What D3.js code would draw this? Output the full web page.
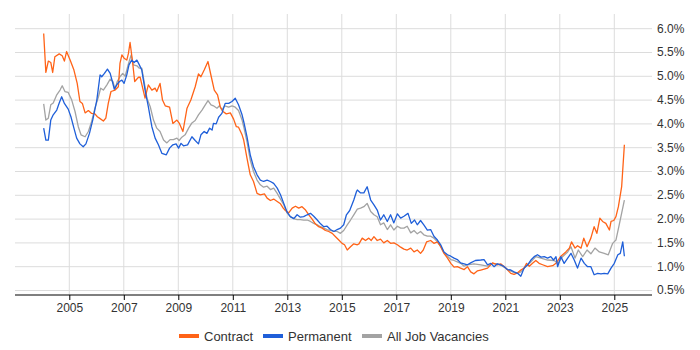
<!DOCTYPE html>
<html>
<head>
<meta charset="utf-8">
<script src="https://cdn.jsdelivr.net/npm/d3@7"></script>
<style>
  body { margin: 0; background: #fff; }
  text { font-family: "Liberation Sans", Arial, sans-serif; }
</style>
</head>
<body>
<script>
const width = 700;
const height = 350;

// year (decimal), percent
const contract = [
  [2004.06,5.89],[2004.14,5.07],[2004.23,5.31],[2004.32,5.28],[2004.39,5.07],[2004.47,5.40],[2004.63,5.46],
  [2004.74,5.42],[2004.82,5.31],[2004.90,5.51],[2005.03,5.33],[2005.17,5.12],[2005.29,4.84],[2005.39,4.46],
  [2005.48,4.42],[2005.58,4.22],[2005.70,4.27],[2005.82,4.21],[2005.94,4.20],[2006.03,4.14],[2006.13,4.10],
  [2006.25,4.05],[2006.34,4.11],[2006.43,4.42],[2006.53,4.67],[2006.68,4.70],[2006.80,4.77],[2006.86,5.26],
  [2006.93,5.44],[2007.01,5.37],[2007.11,5.33],[2007.17,5.47],[2007.23,5.70],[2007.32,5.30],[2007.40,4.88],
  [2007.54,4.97],[2007.60,4.97],[2007.78,4.53],[2007.90,4.81],[2008.03,4.70],[2008.15,4.74],[2008.21,4.67],
  [2008.33,4.84],[2008.42,4.49],[2008.52,4.37],[2008.68,4.34],[2008.80,4.00],[2008.95,4.07],[2009.04,4.00],
  [2009.17,3.83],[2009.32,4.32],[2009.46,4.49],[2009.62,4.77],[2009.74,5.04],[2009.83,4.98],[2009.95,5.12],
  [2010.09,5.30],[2010.21,4.98],[2010.32,4.70],[2010.44,4.60],[2010.54,4.35],[2010.64,4.25],[2010.76,4.20],
  [2010.91,4.22],[2011.03,4.09],[2011.13,3.93],[2011.21,3.92],[2011.34,3.76],[2011.40,3.65],[2011.52,3.27],
  [2011.64,2.92],[2011.76,2.78],[2011.89,2.53],[2012.01,2.50],[2012.16,2.52],[2012.26,2.43],[2012.38,2.38],
  [2012.50,2.41],[2012.63,2.36],[2012.75,2.31],[2012.85,2.22],[2012.93,2.17],[2013.05,2.12],[2013.18,2.22],
  [2013.30,2.26],[2013.42,2.22],[2013.54,2.25],[2013.67,2.18],[2013.79,2.08],[2013.91,1.99],[2014.03,1.89],
  [2014.15,1.83],[2014.28,1.80],[2014.40,1.75],[2014.52,1.73],[2014.65,1.69],[2014.77,1.62],[2014.89,1.55],
  [2015.01,1.48],[2015.10,1.45],[2015.20,1.34],[2015.32,1.41],[2015.44,1.47],[2015.57,1.45],[2015.63,1.47],
  [2015.75,1.59],[2015.87,1.54],[2015.99,1.59],[2016.08,1.54],[2016.18,1.62],[2016.30,1.54],[2016.42,1.57],
  [2016.54,1.49],[2016.67,1.54],[2016.79,1.48],[2016.91,1.49],[2017.04,1.45],[2017.16,1.40],[2017.28,1.36],
  [2017.40,1.34],[2017.53,1.38],[2017.65,1.30],[2017.77,1.34],[2017.89,1.27],[2017.99,1.34],[2018.11,1.51],
  [2018.26,1.54],[2018.38,1.48],[2018.51,1.51],[2018.63,1.41],[2018.75,1.27],[2018.88,1.17],[2019.00,1.06],
  [2019.12,0.98],[2019.24,0.99],[2019.36,0.96],[2019.49,0.93],[2019.61,0.99],[2019.73,0.88],[2019.85,0.84],
  [2019.97,0.90],[2020.10,0.92],[2020.35,0.96],[2020.53,1.07],[2020.71,1.03],[2020.83,1.05],[2021.02,0.96],
  [2021.20,0.85],[2021.32,0.83],[2021.45,0.86],[2021.57,0.92],[2021.69,0.96],[2021.78,1.06],[2021.88,1.00],
  [2022.00,1.06],[2022.12,1.12],[2022.24,1.06],[2022.37,1.03],[2022.55,0.99],[2022.74,1.01],[2022.86,1.06],
  [2023.04,1.21],[2023.22,1.30],[2023.35,1.38],[2023.43,1.51],[2023.56,1.38],[2023.65,1.43],[2023.78,1.38],
  [2023.88,1.59],[2024.00,1.41],[2024.14,1.59],[2024.26,1.83],[2024.36,1.69],[2024.47,2.01],[2024.57,1.94],
  [2024.69,1.90],[2024.82,1.76],[2024.88,1.94],[2024.98,1.96],[2025.06,2.04],[2025.15,2.25],[2025.27,2.67],
  [2025.37,3.55]
];

const permanent = [
  [2004.06,3.90],[2004.14,3.65],[2004.23,3.65],[2004.32,4.07],[2004.41,4.18],[2004.54,4.28],[2004.63,4.43],
  [2004.72,4.56],[2004.82,4.42],[2004.96,4.30],[2005.06,4.14],[2005.17,3.90],[2005.27,3.69],[2005.39,3.57],
  [2005.51,3.51],[2005.61,3.57],[2005.74,3.79],[2005.86,4.07],[2006.01,4.49],[2006.13,5.02],[2006.19,4.98],
  [2006.29,5.05],[2006.40,5.14],[2006.50,5.05],[2006.58,4.88],[2006.65,4.72],[2006.74,4.81],[2006.84,4.88],
  [2006.93,4.91],[2007.01,4.84],[2007.11,5.02],[2007.19,5.23],[2007.29,5.33],[2007.38,5.28],[2007.48,5.33],
  [2007.57,5.23],[2007.66,5.12],[2007.78,4.70],[2007.90,4.35],[2008.03,3.93],[2008.15,3.69],[2008.27,3.55],
  [2008.40,3.37],[2008.56,3.34],[2008.68,3.48],[2008.80,3.55],[2008.92,3.57],[2009.01,3.48],[2009.10,3.58],
  [2009.19,3.53],[2009.34,3.55],[2009.50,3.72],[2009.62,3.64],[2009.74,3.57],[2009.83,3.76],[2009.95,3.83],
  [2010.05,3.79],[2010.15,3.90],[2010.24,3.86],[2010.29,4.00],[2010.39,3.99],[2010.48,4.13],[2010.60,4.21],
  [2010.72,4.42],[2010.85,4.42],[2010.97,4.46],[2011.09,4.53],[2011.21,4.39],[2011.34,4.18],[2011.40,4.04],
  [2011.52,3.72],[2011.64,3.34],[2011.76,3.09],[2011.89,2.92],[2012.01,2.81],[2012.13,2.78],[2012.26,2.81],
  [2012.38,2.78],[2012.50,2.74],[2012.63,2.64],[2012.75,2.50],[2012.87,2.32],[2012.99,2.14],[2013.11,2.04],
  [2013.24,2.00],[2013.36,2.08],[2013.48,2.03],[2013.60,2.04],[2013.73,2.08],[2013.85,2.11],[2013.97,2.05],
  [2014.10,1.97],[2014.22,1.89],[2014.34,1.83],[2014.46,1.84],[2014.58,1.77],[2014.71,1.73],[2014.83,1.77],
  [2014.95,1.80],[2015.07,1.87],[2015.17,2.08],[2015.29,2.17],[2015.44,2.39],[2015.54,2.57],[2015.57,2.60],
  [2015.69,2.54],[2015.81,2.54],[2015.93,2.67],[2016.06,2.39],[2016.18,2.29],[2016.30,2.18],[2016.42,1.97],
  [2016.54,2.08],[2016.67,1.94],[2016.79,2.08],[2016.91,1.91],[2017.04,2.10],[2017.16,2.01],[2017.28,2.05],
  [2017.43,2.11],[2017.55,1.90],[2017.67,1.97],[2017.77,1.87],[2017.89,1.96],[2018.01,1.87],[2018.14,1.76],
  [2018.26,1.77],[2018.38,1.63],[2018.51,1.55],[2018.63,1.45],[2018.75,1.30],[2018.88,1.24],[2019.00,1.21],
  [2019.12,1.17],[2019.24,1.14],[2019.36,1.07],[2019.49,1.05],[2019.61,1.03],[2019.73,1.07],[2019.90,1.12],
  [2020.10,1.13],[2020.22,1.14],[2020.35,1.03],[2020.47,1.06],[2020.59,0.99],[2020.71,1.05],[2020.83,1.03],
  [2020.96,0.99],[2021.08,0.93],[2021.20,0.92],[2021.32,0.88],[2021.45,0.85],[2021.57,0.79],[2021.69,0.96],
  [2021.82,1.03],[2021.94,1.13],[2022.06,1.20],[2022.18,1.24],[2022.31,1.19],[2022.43,1.20],[2022.55,1.17],
  [2022.67,1.20],[2022.77,1.13],[2022.86,1.20],[2022.92,0.99],[2023.04,1.20],[2023.16,1.06],[2023.29,1.17],
  [2023.41,1.27],[2023.53,1.13],[2023.65,0.96],[2023.78,1.17],[2023.90,1.06],[2024.02,0.99],[2024.14,0.99],
  [2024.26,0.82],[2024.39,0.85],[2024.51,0.84],[2024.63,0.85],[2024.76,0.84],[2024.88,0.96],[2025.00,1.06],
  [2025.13,1.24],[2025.22,1.27],[2025.31,1.51],[2025.37,1.21]
];

const allJobs = [
  [2004.06,4.41],[2004.14,4.07],[2004.23,4.11],[2004.32,4.39],[2004.41,4.43],[2004.54,4.60],[2004.66,4.70],
  [2004.74,4.79],[2004.84,4.67],[2004.96,4.65],[2005.09,4.49],[2005.21,4.25],[2005.33,3.93],[2005.43,3.76],
  [2005.58,3.72],[2005.70,3.83],[2005.82,4.04],[2005.94,4.32],[2006.07,4.56],[2006.15,4.74],[2006.25,4.70],
  [2006.38,4.81],[2006.50,4.93],[2006.60,4.88],[2006.68,4.72],[2006.76,4.88],[2006.86,4.98],[2006.96,5.05],
  [2007.05,4.99],[2007.15,5.21],[2007.27,5.44],[2007.35,5.23],[2007.48,5.21],[2007.57,5.16],[2007.66,5.16],
  [2007.85,4.53],[2007.97,4.35],[2008.09,4.07],[2008.21,3.90],[2008.33,3.83],[2008.46,3.65],[2008.58,3.59],
  [2008.70,3.66],[2008.82,3.66],[2008.95,3.69],[2009.03,3.64],[2009.13,3.71],[2009.25,3.76],[2009.38,3.90],
  [2009.50,4.01],[2009.62,4.06],[2009.74,4.18],[2009.87,4.28],[2009.99,4.39],[2010.09,4.48],[2010.20,4.39],
  [2010.29,4.37],[2010.42,4.32],[2010.51,4.37],[2010.60,4.28],[2010.70,4.37],[2010.85,4.34],[2010.97,4.37],
  [2011.09,4.34],[2011.21,4.27],[2011.34,4.07],[2011.40,3.93],[2011.52,3.62],[2011.64,3.23],[2011.76,2.99],
  [2011.89,2.81],[2012.01,2.71],[2012.13,2.66],[2012.26,2.68],[2012.38,2.61],[2012.50,2.64],[2012.63,2.53],
  [2012.75,2.41],[2012.87,2.29],[2012.99,2.12],[2013.11,2.04],[2013.24,2.00],[2013.36,1.98],[2013.48,1.98],
  [2013.60,1.97],[2013.73,1.97],[2013.85,1.94],[2013.97,1.90],[2014.10,1.87],[2014.22,1.83],[2014.34,1.80],
  [2014.46,1.77],[2014.58,1.75],[2014.71,1.73],[2014.83,1.73],[2014.95,1.69],[2015.07,1.75],[2015.20,1.87],
  [2015.32,1.97],[2015.44,2.08],[2015.57,2.20],[2015.69,2.22],[2015.81,2.25],[2015.93,2.32],[2016.06,2.15],
  [2016.18,2.08],[2016.30,2.04],[2016.42,1.87],[2016.54,1.91],[2016.67,1.77],[2016.79,1.87],[2016.91,1.76],
  [2017.04,1.84],[2017.16,1.80],[2017.28,1.80],[2017.40,1.84],[2017.53,1.70],[2017.65,1.75],[2017.77,1.68],
  [2017.89,1.73],[2018.01,1.66],[2018.14,1.63],[2018.26,1.63],[2018.38,1.59],[2018.51,1.51],[2018.63,1.41],
  [2018.75,1.28],[2018.88,1.21],[2019.00,1.14],[2019.12,1.12],[2019.24,1.09],[2019.36,1.06],[2019.49,1.00],
  [2019.61,1.03],[2019.85,1.05],[2020.10,1.03],[2020.35,1.00],[2020.53,1.06],[2020.71,1.05],[2020.90,1.00],
  [2021.08,0.93],[2021.26,0.88],[2021.45,0.85],[2021.57,0.88],[2021.75,0.99],[2021.94,1.09],[2022.12,1.20],
  [2022.31,1.17],[2022.55,1.13],[2022.79,1.12],[2022.94,1.06],[2023.10,1.20],[2023.29,1.30],[2023.41,1.41],
  [2023.56,1.17],[2023.68,1.34],[2023.84,1.20],[2024.00,1.34],[2024.14,1.26],[2024.29,1.38],[2024.45,1.30],
  [2024.63,1.27],[2024.78,1.24],[2024.94,1.48],[2025.06,1.55],[2025.18,1.87],[2025.37,2.39]
];

const yearTicks = [2005, 2007, 2009, 2011, 2013, 2015, 2017, 2019, 2021, 2023, 2025];
const pctTicks = [0.5, 1.0, 1.5, 2.0, 2.5, 3.0, 3.5, 4.0, 4.5, 5.0, 5.5, 6.0];

const seriesNames = ["Contract", "Permanent", "All Job Vacancies"];
const seriesColors = ["#ff6317", "#1f5fd9", "#a3a3a3"];

const plotLeft = 15, plotRight = 652, plotTop = 14, plotBottom = 295;

const svg = d3.select("body").append("svg")
  .attr("width", width)
  .attr("height", height);

const x = d3.scaleLinear().domain([2005, 2025]).range([69.3, 614.3]);
const y = d3.scaleLinear().domain([0.5, 6.0]).range([290, 28.2]);

// horizontal grid + right labels
const yAxis = d3.axisRight(y)
  .tickValues(pctTicks)
  .tickSize(-(plotRight - plotLeft))
  .tickPadding(5)
  .tickFormat(d => d.toFixed(1) + "%");

const gy = svg.append("g")
  .attr("transform", "translate(" + plotRight + ",0)")
  .call(yAxis);
gy.select(".domain").remove();
gy.selectAll("line").attr("stroke", "#dcdcdc");
gy.selectAll("text").attr("font-size", 12).attr("fill", "#333");

// vertical grid
svg.append("g")
  .selectAll("line")
  .data(yearTicks)
  .join("line")
  .attr("x1", d => x(d)).attr("x2", d => x(d))
  .attr("y1", plotTop).attr("y2", plotBottom)
  .attr("stroke", "#dcdcdc");

// x axis
const xAxis = d3.axisBottom(x)
  .tickValues(yearTicks)
  .tickSize(5)
  .tickPadding(3)
  .tickFormat(d3.format("d"));

const gx = svg.append("g")
  .attr("transform", "translate(0," + plotBottom + ")")
  .call(xAxis);
gx.select(".domain")
  .attr("d", "M" + plotLeft + ",0H" + plotRight)
  .attr("stroke", "#000");
gx.selectAll("line").attr("stroke", "#000");
gx.selectAll("text").attr("font-size", 12).attr("fill", "#333");

// lines
const line = d3.line()
  .x(d => x(d[0]))
  .y(d => y(d[1]));

const drawOrder = [[allJobs, 2], [contract, 0], [permanent, 1]];
svg.append("g")
  .selectAll("path")
  .data(drawOrder)
  .join("path")
  .attr("d", d => line(d[0]))
  .attr("fill", "none")
  .attr("stroke", d => seriesColors[d[1]])
  .attr("stroke-width", 1.3)
  .attr("stroke-linejoin", "round");

// legend
const legendX = [179, 263, 362];
const lg = svg.append("g")
  .selectAll("g")
  .data(seriesNames)
  .join("g")
  .attr("transform", (d, i) => "translate(" + legendX[i] + ",336)");
lg.append("rect")
  .attr("x", 0).attr("y", -2)
  .attr("width", 20).attr("height", 4)
  .attr("fill", (d, i) => seriesColors[i]);
lg.append("text")
  .attr("x", 25).attr("y", 4.5)
  .attr("font-size", 13)
  .attr("fill", "#333")
  .text(d => d);
</script>
</body>
</html>
